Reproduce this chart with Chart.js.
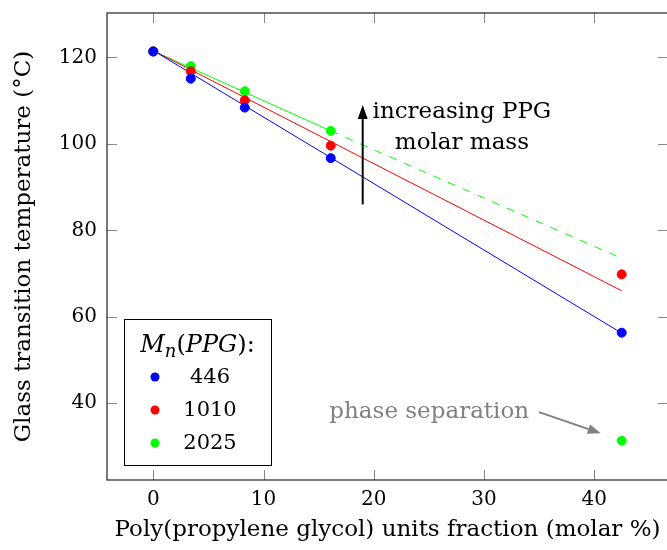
<!DOCTYPE html>
<html>
<head>
<meta charset="utf-8">
<script src="https://cdn.jsdelivr.net/npm/chart.js@4.4.1/dist/chart.umd.min.js"></script>
<style>
  html, body { margin: 0; padding: 0; background: #fff; overflow: hidden; }
  canvas { display: block; }
</style>
</head>
<body>
<canvas id="tgChart" width="669" height="550"></canvas>
<script>
// PPG fraction (molar %) and measured Tg for each PPG molar mass
const ppgFraction = [0, 3.4, 8.3, 16.1, 42.5];
const tg446 = [121.4, 115.1, 108.4, 96.7, 56.3];
const tg1010 = [121.4, 116.8, 110.1, 99.6, 69.8];
const tg2025 = [121.4, 118.0, 112.2, 103.0, 31.3];

// linear fits (end points)
const fitX = [0, 42.5];
const fit446 = [121.6, 56.2];
const fit1010 = [121.6, 66.0];
const fit2025X = [0, 16.1];
const fit2025 = [121.5, 103.0];
const extra2025X = [16.1, 42.5];
const extra2025 = [103.0, 73.5];

const seriesNames = ['446', '1010', '2025'];
const seriesColors = ['#0000ff', '#ff0000', '#00ff00'];

const xTicks = [0, 10, 20, 30, 40];
const yTicks = [40, 60, 80, 100, 120];

const toPoints = (xs, ys) => xs.map((x, i) => ({ x: x, y: ys[i] }));

Chart.defaults.font.family = '"DejaVu Serif", serif';
Chart.defaults.color = '#000';

function arrow(ctx, x1, y1, x2, y2, color, headLen, headW) {
    const ang = Math.atan2(y2 - y1, x2 - x1);
    const bx = x2 - headLen * Math.cos(ang);
    const by = y2 - headLen * Math.sin(ang);
    ctx.strokeStyle = color;
    ctx.fillStyle = color;
    ctx.lineWidth = 2;
    ctx.beginPath();
    ctx.moveTo(x1, y1);
    ctx.lineTo(bx, by);
    ctx.stroke();
    ctx.beginPath();
    ctx.moveTo(x2, y2);
    ctx.lineTo(bx + headW / 2 * Math.sin(ang), by - headW / 2 * Math.cos(ang));
    ctx.lineTo(bx - headW / 2 * Math.sin(ang), by + headW / 2 * Math.cos(ang));
    ctx.closePath();
    ctx.fill();
}

const framePlugin = {
    id: 'frame',
    afterDatasetsDraw(chart) {
        const { ctx, chartArea: a, scales: { x, y } } = chart;
        ctx.save();
        // inner ticks
        ctx.strokeStyle = '#888';
        ctx.lineWidth = 1;
        ctx.beginPath();
        xTicks.forEach(v => {
            const px = Math.round(x.getPixelForValue(v)) + 0.5;
            ctx.moveTo(px, a.top); ctx.lineTo(px, a.top + 10);
            ctx.moveTo(px, a.bottom); ctx.lineTo(px, a.bottom - 10);
        });
        yTicks.forEach(v => {
            const py = Math.round(y.getPixelForValue(v)) + 0.5;
            ctx.moveTo(a.left, py); ctx.lineTo(a.left + 10, py);
            ctx.moveTo(a.right, py); ctx.lineTo(a.right - 10, py);
        });
        ctx.stroke();
        // axis box
        ctx.strokeStyle = '#222';
        ctx.lineWidth = 1.2;
        ctx.strokeRect(a.left, a.top, a.right - a.left, a.bottom - a.top);

        // increasing arrow
        arrow(ctx, x.getPixelForValue(19), y.getPixelForValue(86), x.getPixelForValue(19), y.getPixelForValue(109), '#000', 14, 10);
        ctx.fillStyle = '#000';
        ctx.font = '23px "DejaVu Serif"';
        ctx.textAlign = 'center';
        ctx.textBaseline = 'middle';
        ctx.fillText('increasing PPG', x.getPixelForValue(28), y.getPixelForValue(107.3));
        ctx.fillText('molar mass', x.getPixelForValue(28), y.getPixelForValue(100.3));

        // phase separation note
        ctx.fillStyle = '#808080';
        ctx.textAlign = 'right';
        ctx.fillText('phase separation', x.getPixelForValue(34.1), y.getPixelForValue(37.9));
        arrow(ctx, x.getPixelForValue(35.0), y.getPixelForValue(37.9), x.getPixelForValue(40.6), y.getPixelForValue(33.0), '#808080', 13, 10);

        // legend box
        const lx = 124, ly = 319, lw = 147, lh = 146;
        ctx.fillStyle = '#fff';
        ctx.fillRect(lx, ly, lw, lh);
        ctx.strokeStyle = '#000';
        ctx.lineWidth = 1;
        ctx.strokeRect(lx + 0.5, ly + 0.5, lw, lh);
        // title  M_n(PPG):
        const parts = [
            ['M', 'italic 24px "DejaVu Serif"', 0],
            ['n', 'italic 18px "DejaVu Serif"', 5],
            ['(', '24px "DejaVu Serif"', 0],
            ['PPG', 'italic 24px "DejaVu Serif"', 0],
            [')', '24px "DejaVu Serif"', 0],
            [':', '24px "DejaVu Serif"', 0]
        ];
        let total = 0;
        parts.forEach(p => { ctx.font = p[1]; total += ctx.measureText(p[0]).width; });
        let cx = lx + lw / 2 - total / 2;
        ctx.textAlign = 'left';
        ctx.textBaseline = 'alphabetic';
        ctx.fillStyle = '#000';
        parts.forEach(p => {
            ctx.font = p[1];
            ctx.fillText(p[0], cx, 352 + p[2]);
            cx += ctx.measureText(p[0]).width;
        });
        ctx.font = '21px "DejaVu Serif"';
        ctx.textAlign = 'center';
        ctx.textBaseline = 'middle';
        seriesNames.forEach((name, i) => {
            const ry = 377 + i * 33;
            ctx.fillStyle = seriesColors[i];
            ctx.beginPath();
            ctx.arc(155, ry, 4.5, 0, Math.PI * 2);
            ctx.fill();
            ctx.fillStyle = '#000';
            ctx.fillText(name, 210, ry + 1);
        });
        ctx.restore();
    }
};

const lineDs = (data, color, dash) => ({
    type: 'line',
    data: data,
    borderColor: color,
    borderWidth: 1,
    borderDash: dash || [],
    pointRadius: 0,
    fill: false,
    order: 2
});

const pointDs = (data, color) => ({
    type: 'scatter',
    data: data,
    backgroundColor: color,
    borderColor: color,
    pointRadius: 4.5,
    pointHoverRadius: 4.5,
    order: 1
});

new Chart(document.getElementById('tgChart'), {
    type: 'scatter',
    data: {
        datasets: [
            lineDs(toPoints(fitX, fit446), seriesColors[0]),
            lineDs(toPoints(fitX, fit1010), seriesColors[1]),
            lineDs(toPoints(fit2025X, fit2025), seriesColors[2]),
            lineDs(toPoints(extra2025X, extra2025), seriesColors[2], [8, 8]),
            pointDs(toPoints(ppgFraction, tg446), seriesColors[0]),
            pointDs(toPoints(ppgFraction, tg1010), seriesColors[1]),
            pointDs(toPoints(ppgFraction, tg2025), seriesColors[2])
        ]
    },
    options: {
        responsive: false,
        animation: false,
        layout: { autoPadding: false, padding: { left: 0, top: 13, right: 1, bottom: 0 } },
        plugins: { legend: { display: false }, tooltip: { enabled: false } },
        scales: {
            x: {
                type: 'linear',
                min: -4.2,
                max: 46.7,
                afterBuildTicks: s => { s.ticks = xTicks.map(v => ({ value: v })); },
                afterFit: s => { s.height = 70; s.paddingLeft = 0; s.paddingRight = 0; },
                grid: { display: false, drawTicks: false },
                border: { display: false },
                ticks: { font: { size: 20 }, padding: 8, color: '#000', maxRotation: 0 },
                title: {
                    display: true,
                    text: 'Poly(propylene glycol) units fraction (molar %)',
                    font: { size: 23 },
                    color: '#000',
                    padding: { top: 0, bottom: 6 }
                }
            },
            y: {
                type: 'linear',
                min: 22.2,
                max: 130.3,
                afterBuildTicks: s => { s.ticks = yTicks.map(v => ({ value: v })); },
                afterFit: s => { s.width = 107; s.paddingTop = 0; s.paddingBottom = 0; },
                grid: { display: false, drawTicks: false },
                border: { display: false },
                ticks: { font: { size: 20 }, padding: 10, color: '#000' },
                title: {
                    display: true,
                    text: 'Glass transition temperature (°C)',
                    font: { size: 23 },
                    color: '#000',
                    padding: { top: 10, bottom: 0 }
                }
            }
        }
    },
    plugins: [framePlugin]
});
</script>
</body>
</html>
